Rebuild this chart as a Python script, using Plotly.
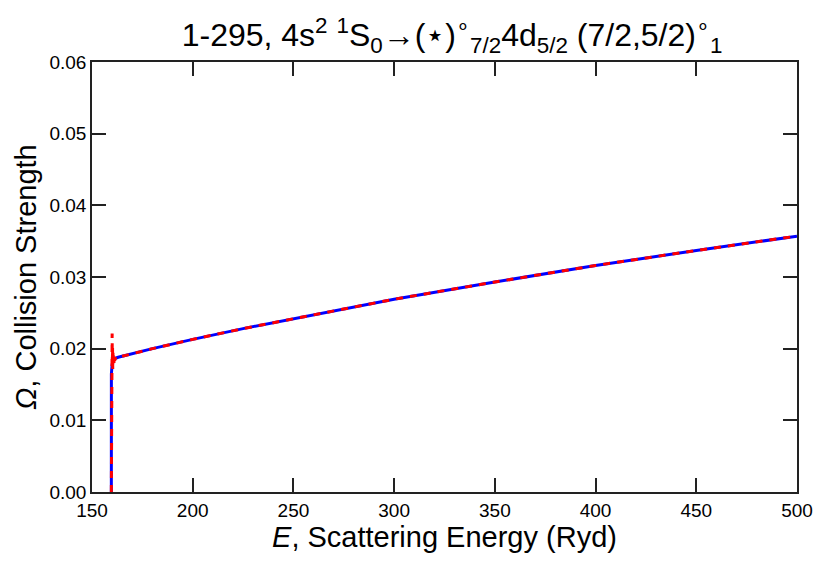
import plotly.graph_objects as go

# scattering energy (Ryd) and collision strength
energy_red = [159.6, 159.62, 159.7, 159.8, 159.9, 160.0, 160.1, 160.2, 160.3, 160.4,
              160.5, 160.6, 160.7, 160.8, 160.9, 161.0, 161.2, 161.4, 161.7, 162.2,
              163.0, 180, 200, 225, 250, 275, 300, 350, 400, 450, 500]
omega_red = [0.0, 0.0165, 0.0185, 0.0172, 0.0205, 0.0221, 0.0176, 0.0202, 0.0170, 0.0196,
             0.0178, 0.0193, 0.0181, 0.0191, 0.0180, 0.0189, 0.0183, 0.0188, 0.0185, 0.0187,
             0.0188, 0.0200, 0.0213, 0.0228, 0.0242, 0.0256, 0.0269, 0.0293, 0.0316, 0.0337, 0.0357]

energy_blue = [159.6, 159.62, 160.0, 160.5, 161.0, 162.0, 163.0, 180,
               200, 225, 250, 275, 300, 350, 400, 450, 500]
omega_blue = [0.0, 0.0165, 0.0178, 0.0184, 0.0186, 0.0187, 0.0188, 0.0200,
              0.0213, 0.0228, 0.0242, 0.0256, 0.0269, 0.0293, 0.0316, 0.0337, 0.0357]

x_ticks = [150, 200, 250, 300, 350, 400, 450, 500]
y_ticks = [0.00, 0.01, 0.02, 0.03, 0.04, 0.05, 0.06]

title = ("1-295, 4s<sup>2</sup> <sup>1</sup>S<sub>0</sub>\u2192(\u22c6)<sup>\u2218</sup><sub>7/2</sub>"
         "4d<sub>5/2</sub> (7/2,5/2)<sup>\u2218</sup><sub>1</sub>")

fig = go.Figure()

fig.add_trace(go.Scatter(
    x=energy_blue, y=omega_blue, mode='lines',
    line=dict(color='blue', width=3),
    showlegend=False
))
fig.add_trace(go.Scatter(
    x=energy_red, y=omega_red, mode='lines',
    line=dict(color='red', width=3, dash='7px,7px'),
    showlegend=False
))

axis_style = dict(
    showgrid=False, zeroline=False,
    showline=True, linecolor='#222', linewidth=1.5, mirror='ticks',
    ticks='inside', ticklen=14, tickwidth=1.5, tickcolor='#222',
    tickfont=dict(size=19, color='black'),
)

fig.update_xaxes(
    range=[150, 500], tickvals=x_ticks,
    title=dict(text="<i>E</i>, Scattering Energy (Ryd)", font=dict(size=29), standoff=2),
    **axis_style
)
fig.update_yaxes(
    range=[0, 0.06], tickvals=y_ticks, tickformat='.2f',
    title=dict(text="<i>\u03a9</i>, Collision Strength", font=dict(size=29), standoff=4),
    **axis_style
)

fig.update_layout(
    title=dict(text=title, x=0.535, xanchor='center', y=0.972, yanchor='top',
               font=dict(size=32, color='black')),
    font=dict(family="Liberation Sans, Arial, sans-serif", color='black'),
    width=830, height=567,
    margin=dict(l=84, r=41, t=54, b=83),
    plot_bgcolor='white', paper_bgcolor='white',
)

fig.write_html("out.html")
